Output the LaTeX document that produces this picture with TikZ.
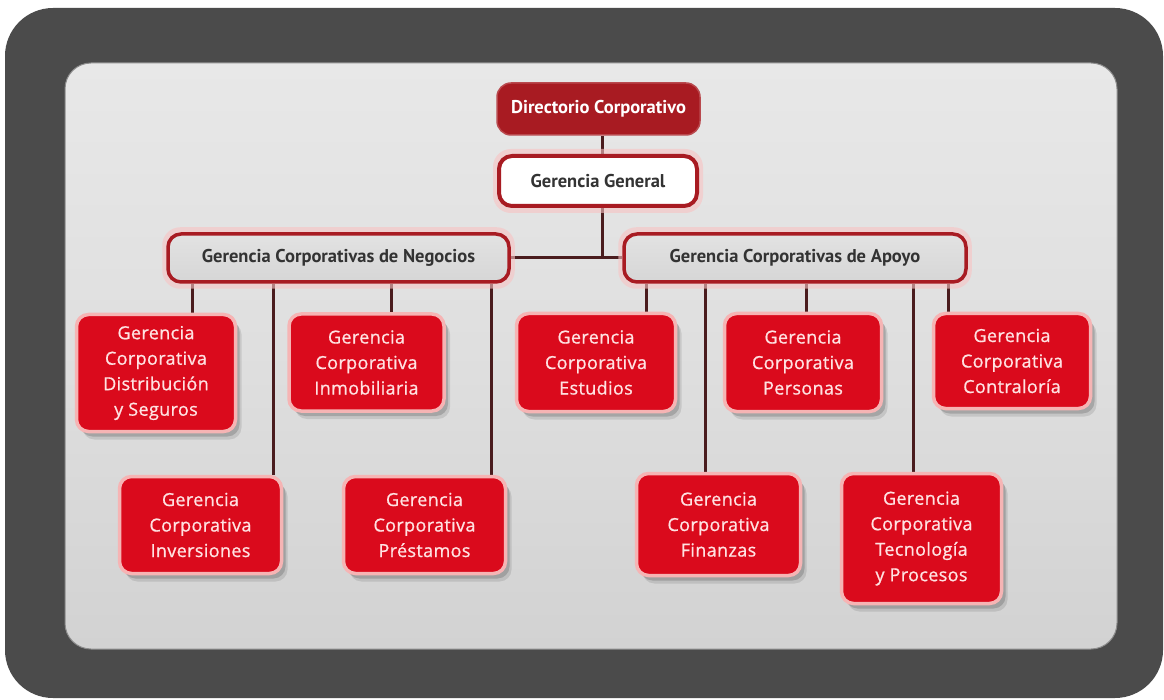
\documentclass[tikz,border=0pt]{standalone}
\usepackage{fontspec}
\setmainfont{PT Sans}
\newfontfamily\unitfont{Open Sans}[LetterSpace=2,FakeBold=0.8]
\usetikzlibrary{shadows,calc}
\pgfdeclarelayer{background}
\pgfdeclarelayer{panel}
\pgfsetlayers{panel,background,main}

\definecolor{frame}{HTML}{4B4B4B}
\definecolor{panelTop}{HTML}{E8E8E8}
\definecolor{panelBot}{HTML}{D2D2D2}
\definecolor{cred}{HTML}{DA0A1C}
\definecolor{cpink}{HTML}{F6B4B4}
\definecolor{ctext}{HTML}{FFE2E2}
\definecolor{dred}{HTML}{A81B22}
\definecolor{wire}{HTML}{4A1C1E}
\definecolor{headfill}{HTML}{D6D6D6}

\tikzset{
  x=1pt, y=-1pt,
  unit/.style={rectangle, rounded corners=12pt, fill=cred, draw=cpink,
    line width=3.5pt, text=ctext, align=center, inner sep=0pt,
    font=\unitfont\fontsize{18}{25.5}\selectfont,
    drop shadow={shadow xshift=6pt, shadow yshift=-8pt, fill=black, opacity=0.10},
    drop shadow={shadow xshift=4pt, shadow yshift=-5pt, fill=black, opacity=0.16}},
  head/.style={rectangle, rounded corners=13pt, top color=headfill!70!white,
    bottom color=headfill, draw=dred, line width=3.5pt, text=black!80,
    font=\bfseries\fontsize{18.5}{21}\selectfont, inner sep=0pt},
  halo/.style={draw=cpink!80, line width=6pt, opacity=0.6},
  wireline/.style={draw=wire, line width=3pt},
}

\begin{document}
\begin{tikzpicture}
\useasboundingbox (0,0) rectangle (1164,700);

% frame and panel
\begin{pgfonlayer}{panel}
  \fill[white] (0,0) rectangle (1164,700);
  \fill[frame, rounded corners=48pt] (5,8) rectangle (1163,698);
  \shade[top color=panelTop, bottom color=panelBot, middle color=panelTop!96!black,
    rounded corners=26pt, draw=black!45, line width=1pt] (65,63) rectangle (1117,649);
\end{pgfonlayer}

% top levels
\node[rectangle, rounded corners=14pt, fill=dred, draw=dred!80!white, line width=1.5pt,
  minimum width=203pt, minimum height=52pt, text=white,
  font=\bfseries\fontsize{18.5}{21}\selectfont] (dir) at (598.5,109) {Directorio Corporativo};
\node[rectangle, rounded corners=13pt, fill=white, draw=dred, line width=4pt,
  minimum width=198pt, minimum height=50pt, text=black!80,
  font=\bfseries\fontsize{18.5}{21}\selectfont] (gg) at (598,181) {Gerencia General};

\node[head, minimum width=341pt, minimum height=48pt] (neg) at (338.5,258) {Gerencia Corporativas de Negocios};
\node[head, minimum width=342pt, minimum height=48pt] (apo) at (795,258) {Gerencia Corporativas de Apoyo};

% units
\node[unit, minimum width=159pt, minimum height=117pt] (dis) at (156,373) {Gerencia\\Corporativa\\Distribución\\y Seguros};
\node[unit, minimum width=155pt, minimum height=97pt] (inm) at (366.5,362.5) {Gerencia\\Corporativa\\Inmobiliaria};
\node[unit, minimum width=162pt, minimum height=97pt] (inv) at (200.5,525) {Gerencia\\Corporativa\\Inversiones};
\node[unit, minimum width=162pt, minimum height=97pt] (pre) at (424.5,525) {Gerencia\\Corporativa\\Préstamos};
\node[unit, minimum width=159pt, minimum height=98pt] (est) at (596,362.5) {Gerencia\\Corporativa\\Estudios};
\node[unit, minimum width=157pt, minimum height=98pt] (per) at (803,362.5) {Gerencia\\Corporativa\\Personas};
\node[unit, minimum width=157pt, minimum height=95pt] (con) at (1012,361) {Gerencia\\Corporativa\\Contraloría};
\node[unit, minimum width=164pt, minimum height=102pt] (fin) at (718.5,524.5) {Gerencia\\Corporativa\\Finanzas};
\node[unit, minimum width=160pt, minimum height=130pt] (tec) at (921.5,538.5) {Gerencia\\Corporativa\\Tecnología\\y Procesos};

\coordinate (hub) at ($(dir.south)+(4,0)$);
\coordinate (hubneg) at (hub |- neg.east);

% connectors
\begin{pgfonlayer}{background}
  \draw[wireline] (hub) -- (hubneg);
  \draw[wireline] (neg.east) -- (apo.west);
  % Negocios branch
  \draw[wireline] ([xshift=36pt]dis.north) -- ([xshift=36pt]dis.north |- neg.south);
  \draw[wireline] ([xshift=25pt]inm.north) -- ([xshift=25pt]inm.north |- neg.south);
  \draw[wireline] ([xshift=73pt]inv.north) -- ([xshift=73pt]inv.north |- neg.south);
  \draw[wireline] ([xshift=67pt]pre.north) -- ([xshift=67pt]pre.north |- neg.south);
  % Apoyo branch
  \draw[wireline] ([xshift=50pt]est.north) -- ([xshift=50pt]est.north |- apo.south);
  \draw[wireline] ([xshift=3pt]per.north) -- ([xshift=3pt]per.north |- apo.south);
  \draw[wireline] ([xshift=-64pt]con.north) -- ([xshift=-64pt]con.north |- apo.south);
  \draw[wireline] ([xshift=-13.5pt]fin.north) -- ([xshift=-13.5pt]fin.north |- apo.south);
  \draw[wireline] ([xshift=-8.5pt]tec.north) -- ([xshift=-8.5pt]tec.north |- apo.south);
  % pink halo around the header boxes
  \draw[halo, rounded corners=15pt] ($(neg.south west)+(-1,2)$) rectangle ($(neg.north east)+(1,-2)$);
  \draw[halo, rounded corners=15pt] ($(apo.south west)+(-1,2)$) rectangle ($(apo.north east)+(1,-2)$);
  \draw[halo, rounded corners=15pt] ($(gg.south west)+(-1,2)$) rectangle ($(gg.north east)+(1,-2)$);
\end{pgfonlayer}
\end{tikzpicture}
\end{document}
